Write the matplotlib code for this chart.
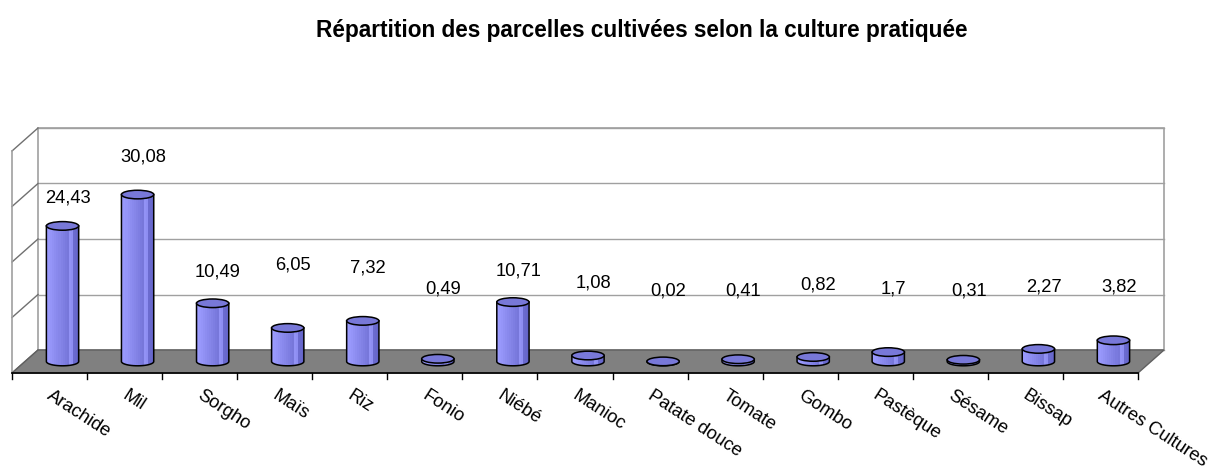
import numpy as np
import matplotlib
matplotlib.use("Agg")
from matplotlib import pyplot as plt
from matplotlib.patches import Polygon, Ellipse, Rectangle

plt.rcParams['font.family'] = ['Liberation Sans', 'DejaVu Sans']

cultures = ['Arachide', 'Mil', 'Sorgho', 'Maïs', 'Riz', 'Fonio', 'Niébé', 'Manioc',
            'Patate douce', 'Tomate', 'Gombo', 'Pastèque', 'Sésame', 'Bissap',
            'Autres Cultures']
parts = [24.43, 30.08, 10.49, 6.05, 7.32, 0.49, 10.71, 1.08, 0.02, 0.41, 0.82,
         1.7, 0.31, 2.27, 3.82]
# heights where the value labels sit (Excel puts them a bit unevenly)
label_y = [27.4, 34.8, 14.1, 15.3, 14.8, 11.0, 14.2, 12.1, 10.6, 10.6, 11.7,
           11.0, 10.6, 11.4, 11.4]
ymax = 40
grid = [0, 10, 20, 30, 40]

W, H = 1228, 469
fig = plt.figure(figsize=(W / 100, H / 100), dpi=100)

n = len(cultures)
# depth of the 3d box in data units
dx = 26 / (1126 / n)
dy = 23 / (222 / ymax)

ax = fig.add_axes([12 / W, (H - 373) / H, (1164 - 12) / W, (373 - 128) / H])
ax.set_xlim(-dx, n)
ax.set_ylim(-dy, ymax)
ax.axis('off')

wall = '#a0a0a0'
# back wall and gridlines
ax.add_patch(Rectangle((0, 0), n, ymax, facecolor='white', edgecolor=wall, lw=1.2,
                       clip_on=False, zorder=1))
for g in grid:
    ax.plot([0, n], [g, g], color=wall, lw=1.0, zorder=1.5, clip_on=False)
    ax.plot([-dx, 0], [g - dy, g], color='#707070', lw=1.0, zorder=1.5, clip_on=False)
ax.plot([-dx, -dx], [-dy, ymax - dy], color=wall, lw=1.2, zorder=1.5, clip_on=False)

# floor
ax.add_patch(Polygon([(0, 0), (n, 0), (n - dx, -dy), (-dx, -dy)], closed=True,
                     facecolor='#808080', edgecolor='#606060', lw=1.0,
                     clip_on=False, zorder=2))
ax.plot([-dx, n - dx], [-dy, -dy], color='black', lw=1.2, zorder=2.5, clip_on=False)
tick = 6 / (222 / ymax)
for i in range(n + 1):
    ax.plot([i - dx, i - dx], [-dy, -dy - tick], color='black', lw=1.0,
            zorder=2.5, clip_on=False)

# cylinders
bw = 0.43
eh = 1.55
c_left = np.array([0x9c, 0x9c, 0xff]) / 255
c_right = np.array([0x64, 0x64, 0xc8]) / 255
t = np.linspace(np.pi, 2 * np.pi, 30)
for i, v in enumerate(parts):
    cx = i + 0.5 - dx / 2
    base = -dy / 2
    top = base + v
    arc = np.column_stack([cx + bw / 2 * np.cos(t), base + eh / 2 * np.sin(t)])
    body = np.vstack([[cx - bw / 2, top], arc, [cx + bw / 2, top]])
    outline = Polygon(body, closed=True, facecolor='none', edgecolor='black',
                      lw=1.1, clip_on=False, zorder=4)
    clip = Polygon(body, closed=True, facecolor='none', edgecolor='none',
                   clip_on=False, zorder=3)
    ax.add_patch(clip)
    ns = 16
    for k in range(ns):
        f = k / (ns - 1)
        col = c_left * (1 - f) + c_right * f
        if 0.7 < f < 0.85:
            col = np.minimum(col + 0.12, 1)
        strip = Rectangle((cx - bw / 2 + k * bw / ns, base - eh), bw / ns * 1.05,
                          v + 2 * eh, facecolor=col, edgecolor='none', zorder=3)
        strip.set_clip_path(clip)
        ax.add_patch(strip)
    ax.add_patch(outline)
    ax.add_patch(Ellipse((cx, top), bw, eh, facecolor='#7878d8', edgecolor='black',
                         lw=1.1, clip_on=False, zorder=5))
    ax.text(cx + 0.07, label_y[i], f"{v:g}".replace('.', ','),
            ha='center', va='center', fontsize=13.2, zorder=6)

# category labels
for i, name in enumerate(cultures):
    ax.text(i + 0.55 - dx, -dy - 14 / (222 / ymax), name, rotation=-33,
            rotation_mode='anchor', ha='left', va='top', fontsize=13.2,
            clip_on=False)

fig.text(642 / W, 1 - 31 / H, 'Répartition des parcelles cultivées selon la culture pratiquée',
         ha='center', va='center', fontsize=16.3, fontweight='bold')

fig.savefig('out.png', dpi=100)
